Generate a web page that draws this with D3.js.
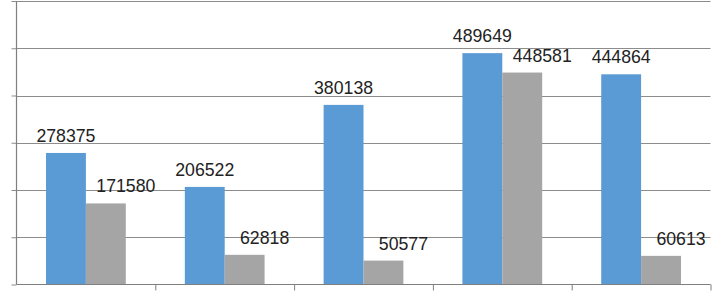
<!DOCTYPE html>
<html>
<head>
<meta charset="utf-8">
<script src="https://cdn.jsdelivr.net/npm/d3@7"></script>
<style>
  body { margin: 0; background: #fff; }
  svg { display: block; }
</style>
</head>
<body>
<svg id="chart"></svg>
<script>
// chart data
var categories = ["1", "2", "3", "4", "5"];
var seriesNames = ["Series1", "Series2"];
var series1 = [278375, 206522, 380138, 489649, 444864];
var series2 = [171580, 62818, 50577, 448581, 60613];
var yTicks = [0, 100000, 200000, 300000, 400000, 500000, 600000];

function drawChart() {
    var width = 716;
    var height = 291;
    var left = 16.5, right = 710.5, top = 1, bottom = 284.5;
    var colors = ["#5B9BD5", "#A5A5A5"];

    var svg = d3.select("#chart").attr("width", width).attr("height", height);

    var x0 = d3.scaleBand().domain(categories).range([left, right]).padding(0);
    var x1 = d3.scaleBand().domain(seriesNames).range([0, x0.bandwidth()])
                .paddingInner(0).paddingOuter(0.74);
    var y = d3.scaleLinear().domain([0, 600000]).range([bottom, top]);

    // gridlines + left ticks
    var yAxis = d3.axisLeft(y).tickValues(yTicks).tickSize(5).tickFormat("");
    var gy = svg.append("g").attr("transform", "translate(" + left + ",0)").call(yAxis);
    gy.selectAll(".tick line").attr("stroke", "#8c8c8c");
    gy.select(".domain").remove();

    svg.append("g").selectAll("line").data(yTicks.slice(1)).join("line")
        .attr("x1", left).attr("x2", right)
        .attr("y1", function(d) { return Math.round(y(d)) + 0.5; })
        .attr("y2", function(d) { return Math.round(y(d)) + 0.5; })
        .attr("stroke", "#8c8c8c").attr("stroke-width", 1.2);

    svg.append("line").attr("x1", left).attr("x2", left).attr("y1", top).attr("y2", bottom)
        .attr("stroke", "#7f7f7f").attr("stroke-width", 1.2);

    var data = categories.map(function(c, i) {
        return { cat: c, vals: [series1[i], series2[i]] };
    });

    var groups = svg.append("g").selectAll("g").data(data).join("g")
        .attr("transform", function(d) { return "translate(" + x0(d.cat) + ",0)"; });

    groups.selectAll("rect").data(function(d) { return d.vals; }).join("rect")
        .attr("x", function(d, j) { return x1(seriesNames[j]); })
        .attr("y", function(d) { return y(d); })
        .attr("width", x1.bandwidth())
        .attr("height", function(d) { return bottom - y(d); })
        .attr("fill", function(d, j) { return colors[j]; });

    // value labels (grey ones sit a bit to the right, like in the source)
    groups.selectAll("text").data(function(d) { return d.vals; }).join("text")
        .attr("x", function(d, j) { return x1(seriesNames[j]) + x1.bandwidth() / 2 + (j == 1 ? 20 : 0); })
        .attr("y", function(d) { return y(d) - 11; })
        .attr("text-anchor", "middle")
        .attr("font-family", "Liberation Sans, Arial, sans-serif")
        .attr("font-size", "17.7px")
        .attr("fill", "#222")
        .text(function(d) { return d; });

    // baseline with category ticks
    var xb = d3.scaleLinear().domain([0, categories.length]).range([left, right]);
    var xAxis = d3.axisBottom(xb).tickValues(d3.range(1, categories.length + 1)).tickSize(6).tickFormat("");
    var gx = svg.append("g").attr("transform", "translate(0," + bottom + ")").call(xAxis);
    gx.select(".domain").attr("stroke", "#7f7f7f").attr("stroke-width", 1.2).attr("d", "M" + left + ",0H" + right);
    gx.selectAll(".tick line").attr("stroke", "#7f7f7f");
}

drawChart();
</script>
</body>
</html>
